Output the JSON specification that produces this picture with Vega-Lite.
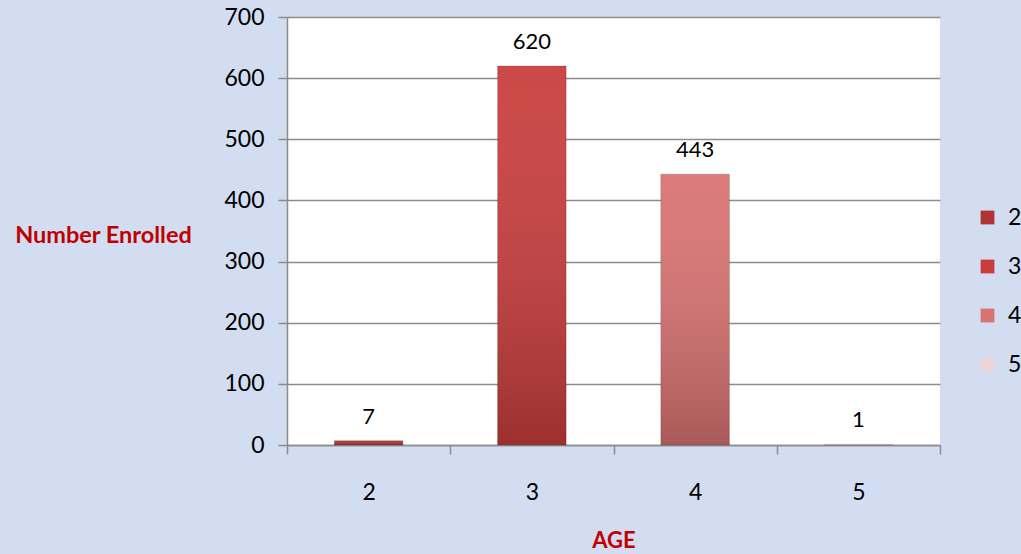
{
  "$schema": "https://vega.github.io/schema/vega-lite/v6.json",
  "autosize": "none",
  "width": 653,
  "height": 428,
  "padding": {"left": 287, "top": 17, "right": 81, "bottom": 109},
  "background": "#d2ddf1",
  "config": {
    "view": {"fill": "white", "stroke": null},
    "font": "Lato",
    "axis": {"labelFont": "Lato", "titleFont": "Lato", "labelColor": "#000000", "labelFontSize": 23, "domainColor": "#8c8c8c", "tickColor": "#8c8c8c", "gridColor": "#8c8c8c", "domainWidth": 1.5, "tickWidth": 1.5, "gridWidth": 1.5}
  },
  "data": {"values": [
    {"age": "2", "count": 7},
    {"age": "3", "count": 620},
    {"age": "4", "count": 443},
    {"age": "5", "count": 1}
  ]},
  "encoding": {
    "x": {"field": "age", "type": "ordinal", "scale": {"paddingInner": 0, "paddingOuter": 0},
      "axis": {"title": "AGE", "titleColor": "#c00000", "titleFontWeight": "bold", "titleFontSize": 22, "titlePadding": 26, "labelAngle": 0, "labelPadding": 27, "tickBand": "extent", "tickSize": 9, "grid": false}},
    "y": {"field": "count", "type": "quantitative", "scale": {"domain": [0, 700]},
      "axis": {"title": "Number Enrolled", "titleColor": "#c00000", "titleFontWeight": "bold", "titleFontSize": 23.5, "titleAngle": 0, "titleX": -184, "titleY": 218, "titleAlign": "center", "titleBaseline": "middle", "values": [0,100,200,300,400,500,600,700], "tickSize": 9, "labelPadding": 14, "grid": true}}
  },
  "layer": [
    {
      "mark": {"type": "bar", "width": {"band": 0.42}},
      "encoding": {
        "color": {"field": "age", "type": "nominal",
          "scale": {"domain": ["2","3","4","5"], "range": ["#b03434", "#c93d3d", "#d97272", "#edd3d3"]},
          "legend": {"title": null, "orient": "none", "legendX": 689, "legendY": 189, "symbolType": "square", "symbolSize": 190, "symbolStrokeWidth": 0, "labelFontSize": 23, "labelFont": "Lato", "labelColor": "#000000", "rowPadding": 25, "labelOffset": 9}}
      }
    },
    {
      "mark": {"type": "bar", "width": {"band": 0.42}, "fill": {"gradient": "linear", "x1": 0, "y1": 0, "x2": 0, "y2": 1, "stops": [{"offset": 0, "color": "rgba(255,255,255,0.06)"}, {"offset": 1, "color": "rgba(0,0,0,0.22)"}]}, "stroke": "rgba(0,0,0,0.15)", "strokeWidth": 1}
    },
    {
      "mark": {"type": "text", "baseline": "bottom", "dy": -12, "fontSize": 22, "font": "Lato", "color": "#000000"},
      "encoding": {"text": {"field": "count", "type": "quantitative"}}
    }
  ]
}
